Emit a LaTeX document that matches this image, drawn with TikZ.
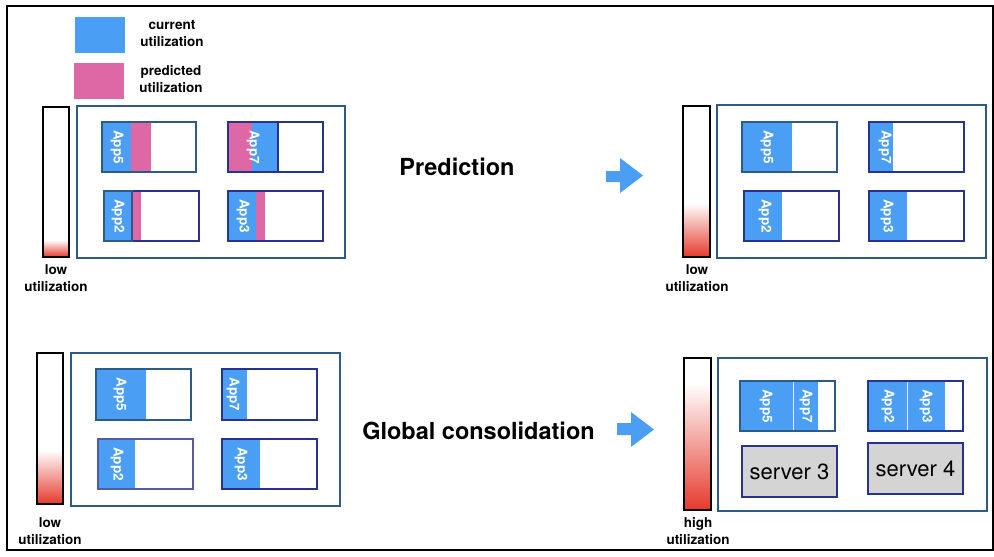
\documentclass[tikz,border=0pt]{standalone}
\usepackage{fontspec}
\setmainfont{TeX Gyre Heros}
\definecolor{ublue}{HTML}{4A9FF5}
\definecolor{upink}{HTML}{DE68A5}
\definecolor{sblue}{HTML}{2E5A88}
\definecolor{nblue}{HTML}{28328F}
\definecolor{ured}{HTML}{E53A2C}
\definecolor{sgray}{HTML}{D4D4D4}
\tikzset{
  srvbox/.style={draw=sblue, line width=1.8pt},
  appframe/.style={line width=1.8pt},
  applabel/.style={text=white, rotate=-90, inner sep=0pt, font=\bfseries\fontsize{13.5}{14}\selectfont},
  lbl/.style={align=center, inner sep=0pt, font=\bfseries\fontsize{13.5}{17}\selectfont},
  title/.style={inner sep=0pt, font=\bfseries\fontsize{23.5}{26}\selectfont},
  bigarrow/.style={fill=ublue},
  srvnode/.style={draw=nblue, fill=sgray, line width=1.8pt, inner sep=0pt, font=\fontsize{22}{22}\selectfont}
}
% gauge: x1 y1 x2 y2 gradient-start
\newcommand{\gaugebar}[5]{%
  \fill[white] (#1,#2) rectangle (#3,#4);
  \shade[top color=white, bottom color=ured] (#1,#5) rectangle (#3,#4);
  \draw[line width=1.8pt] (#1,#2) rectangle (#3,#4);
}
\begin{document}
\begin{tikzpicture}[x=1pt,y=-1pt]
\useasboundingbox (0,0) rectangle (994,557);
\draw[line width=1.3pt] (7,6) rectangle (993,550);

% legend
\fill[ublue] (75,17) rectangle (125,53);
\fill[upink] (74,63) rectangle (124,99);
\node[lbl] (lcur) at (172,33.5) {current\\utilization};
\node[lbl] (lpred) at (171,79) {predicted\\utilization};

% ---------- top left ----------
\gaugebar{43}{107}{69}{257}{240}
\node[lbl] (ltl) at (56,278) {low\\utilization};
\draw[srvbox] (77,106) rectangle (345,258);
% App5
\fill[ublue] (102,122) rectangle (131,172);
\fill[upink] (131,122) rectangle (151,172);
\draw[appframe, draw=sblue] (102,122) rectangle (196,172);
\node[applabel] (a5tl) at (117,147) {App5};
% App7
\fill[upink] (228,122) rectangle (252,172);
\fill[ublue] (252,122) rectangle (278,172);
\draw[appframe, draw=nblue] (228,122) rectangle (323,172);
\draw[appframe, draw=nblue] (228,122) rectangle (278,172);
\node[applabel] (a7tl) at (253,147) {App7};
% App2
\fill[ublue] (104,191) rectangle (132,241);
\fill[upink] (132,191) rectangle (141,241);
\draw[appframe, draw=nblue] (104,191) rectangle (199,241);
\draw[appframe, draw=sblue] (104,191) rectangle (132,241);
\node[applabel] (a2tl) at (118,216) {App2};
% App3
\fill[ublue] (228,191) rectangle (256,241);
\fill[upink] (256,191) rectangle (265,241);
\draw[appframe, draw=nblue] (228,191) rectangle (323,241);
\node[applabel] (a3tl) at (243,216) {App3};

% title + arrow
\node[title] (tpred) at (457,167) {Prediction};
\fill[bigarrow] (606,171) -- (620,171) -- (620,158) -- (643,175.5) -- (620,193) -- (620,182) -- (606,182) -- cycle;

% ---------- top right ----------
\gaugebar{683}{106}{710}{257}{203}
\node[lbl] (ltr) at (697,278) {low\\utilization};
\draw[srvbox] (717,105) rectangle (986,258);
\fill[ublue] (742,122) rectangle (792,172);
\draw[appframe, draw=sblue] (742,122) rectangle (837,172);
\node[applabel] (a5tr) at (767,147) {App5};
\fill[ublue] (869,122) rectangle (893,172);
\draw[appframe, draw=nblue] (869,122) rectangle (964,172);
\node[applabel] (a7tr) at (885,147) {App7};
\fill[ublue] (744,191) rectangle (782,241);
\draw[appframe, draw=nblue] (744,191) rectangle (839,241);
\node[applabel] (a2tr) at (765,216) {App2};
\fill[ublue] (869,191) rectangle (907,241);
\draw[appframe, draw=nblue] (869,191) rectangle (964,241);
\node[applabel] (a3tr) at (887,216) {App3};

% ---------- bottom left ----------
\gaugebar{37}{353}{63}{504}{450}
\node[lbl] (lbl1) at (50,531) {low\\utilization};
\draw[srvbox] (71,353) rectangle (340,506);
\fill[ublue] (96,369) rectangle (146,420);
\draw[appframe, draw=sblue] (96,369) rectangle (191,420);
\node[applabel] (a5bl) at (120,394.5) {App5};
\fill[ublue] (222,369) rectangle (247,420);
\draw[appframe, draw=nblue] (222,369) rectangle (317,420);
\node[applabel] (a7bl) at (233,394.5) {App7};
\fill[ublue] (98,439) rectangle (135,489);
\draw[appframe, draw=nblue!80] (98,439) rectangle (193,489);
\node[applabel] (a2bl) at (117,464) {App2};
\fill[ublue] (222,439) rectangle (260,489);
\draw[appframe, draw=nblue] (222,439) rectangle (317,489);
\node[applabel] (a3bl) at (241,464) {App3};

% title + arrow
\node[title] (tglob) at (478.5,431) {Global consolidation};
\fill[bigarrow] (617,423) -- (631,423) -- (631,412) -- (654,429.5) -- (631,447) -- (631,435) -- (617,435) -- cycle;

% ---------- bottom right ----------
\gaugebar{684}{358}{711}{510}{383}
\node[lbl] (lbr) at (698,531) {high\\utilization};
\draw[srvbox] (718,358) rectangle (987,511);
\fill[ublue] (740,381) rectangle (818,431);
\draw[white!85!ublue, line width=0.8pt] (793,381) -- (793,431);
\draw[appframe, draw=sblue] (740,381) rectangle (835,431);
\node[applabel] (a5br) at (766,406) {App5};
\node[applabel] (a7br) at (806,406) {App7};
\fill[ublue] (868,381) rectangle (945,431);
\draw[white!85!ublue, line width=0.8pt] (907,381) -- (907,431);
\draw[appframe, draw=nblue] (868,381) rectangle (963,431);
\node[applabel] (a2br) at (888,406) {App2};
\node[applabel] (a3br) at (926,406) {App3};
\node[srvnode, minimum width=95pt, minimum height=51pt] (s3) at (789.5,471.5) {server 3};
\node[srvnode, minimum width=95pt, minimum height=51pt] (s4) at (915.5,468.5) {server 4};
\end{tikzpicture}
\end{document}
